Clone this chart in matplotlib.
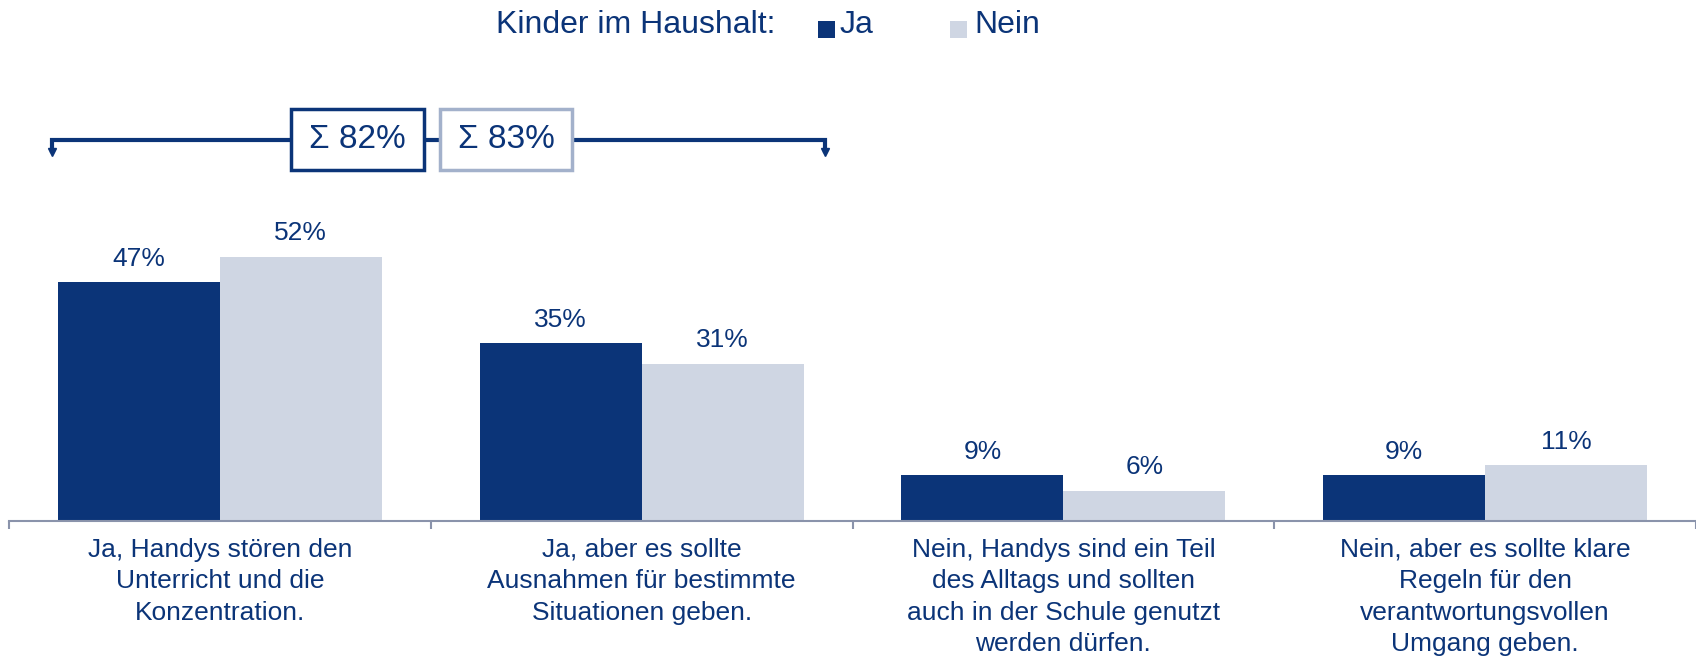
import numpy as np
import matplotlib
matplotlib.use('agg')
import matplotlib.pyplot as plt
from matplotlib.patches import Rectangle

categories = ['Ja, Handys stören den\nUnterricht und die\nKonzentration.',
              'Ja, aber es sollte\nAusnahmen für bestimmte\nSituationen geben.',
              'Nein, Handys sind ein Teil\ndes Alltags und sollten\nauch in der Schule genutzt\nwerden dürfen.',
              'Nein, aber es sollte klare\nRegeln für den\nverantwortungsvollen\nUmgang geben.']
ja = [47, 35, 9, 9]
nein = [52, 31, 6, 11]
sum_labels = ['Σ 82%', 'Σ 83%']

NAVY = '#0B3478'
LIGHT = '#CFD6E3'
LIGHT_EDGE = '#A3B1CB'
AXIS = '#8A93AB'

plt.rcParams['font.family'] = ['Liberation Sans', 'DejaVu Sans']

W, H = 1696, 658
fig = plt.figure(figsize=(W / 100, H / 100), dpi=100)
# axes from x=9px to right edge, bottom at y=521px
ax = fig.add_axes([9 / W, (H - 521) / H, (W - 9) / W, 521 / H])
ax.set_xlim(-0.5, 3.5)
ax.set_ylim(0, 521 / 5.08)

x = np.arange(len(categories))
bw = 0.384
ax.bar(x - bw / 2, ja, bw, color=NAVY)
ax.bar(x + bw / 2, nein, bw, color=LIGHT)

for xi, v in zip(x - bw / 2, ja):
    ax.annotate(f'{v}%', (xi, v), xytext=(0, 17), textcoords='offset points',
                ha='center', va='center', fontsize=19, color=NAVY)
for xi, v in zip(x + bw / 2, nein):
    ax.annotate(f'{v}%', (xi, v), xytext=(0, 17), textcoords='offset points',
                ha='center', va='center', fontsize=19, color=NAVY)

for s in ['top', 'right', 'left']:
    ax.spines[s].set_visible(False)
ax.spines['bottom'].set_color(AXIS)
ax.spines['bottom'].set_linewidth(1.5)
ax.set_yticks([])
ax.set_xticks(x)
ax.set_xticklabels(categories, fontsize=19, color=NAVY, linespacing=1.40)
ax.tick_params(axis='x', which='major', length=0, pad=12)
ax.set_xticks(np.arange(-0.5, 4.0, 1.0), minor=True)
ax.tick_params(axis='x', which='minor', length=6, width=1.5, color=AXIS, direction='out')

# bracket over first two groups
yb, yd = 75.0, 72.0
x0, x1 = -0.398, 1.434
ax.plot([x0, x0, x1, x1], [yd + 0.8, yb, yb, yd + 0.8], color=NAVY, lw=3, clip_on=False,
        solid_joinstyle='miter')
for xe in [x0, x1]:
    ax.plot(xe, yd + 0.6, marker='v', color=NAVY, ms=6, clip_on=False)

boxes = [(0.168, 0.483, NAVY), (0.521, 0.836, LIGHT_EDGE)]
for (bx0, bx1, ec), lab in zip(boxes, sum_labels):
    ax.add_patch(Rectangle((bx0, 69.1), bx1 - bx0, 12.0, facecolor='white',
                           edgecolor=ec, lw=2.5, clip_on=False, zorder=5))
    ax.text((bx0 + bx1) / 2, 75.1, lab, ha='center', va='center', fontsize=24,
            color=NAVY, zorder=6)

# legend
fig.text(496 / W, 1 - 25 / H, 'Kinder im Haushalt:', fontsize=23, color=NAVY,
         ha='left', va='center')
fig.patches.append(Rectangle((818 / W, 1 - 38 / H), 17 / W, 17 / H, facecolor=NAVY,
                             transform=fig.transFigure, figure=fig))
fig.text(840 / W, 1 - 25 / H, 'Ja', fontsize=23, color=NAVY, ha='left', va='center')
fig.patches.append(Rectangle((950 / W, 1 - 38 / H), 17 / W, 17 / H, facecolor=LIGHT,
                             transform=fig.transFigure, figure=fig))
fig.text(974 / W, 1 - 25 / H, 'Nein', fontsize=23, color=NAVY, ha='left', va='center')

fig.savefig('out.png', dpi=100)
